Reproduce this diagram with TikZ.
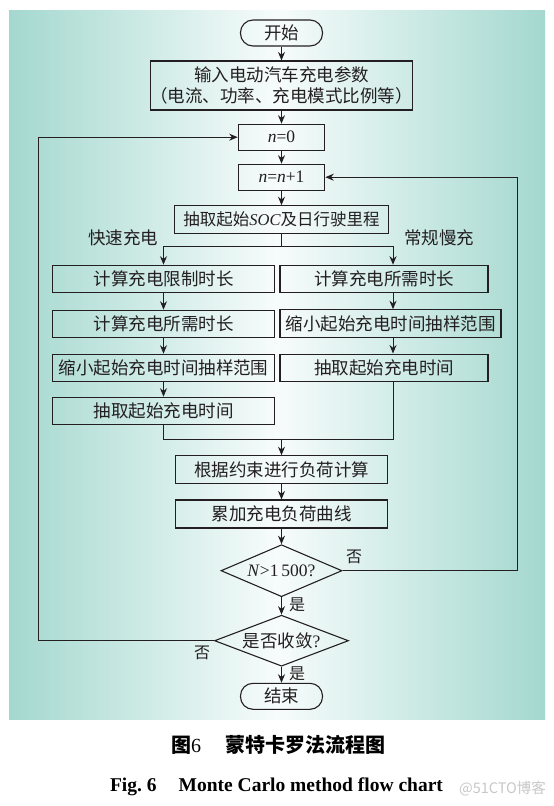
\documentclass[tikz,border=0pt]{standalone}
\usepackage{fontspec}
\setmainfont{Noto Sans CJK SC}
\newfontfamily\tnr{Liberation Serif}
\usetikzlibrary{arrows.meta,shapes.geometric}
\definecolor{tealedge}{RGB}{164,216,207}
\definecolor{midwhite}{RGB}{247,252,251}
\definecolor{ink}{RGB}{35,31,32}
\begin{document}
\begin{tikzpicture}[x=1pt,y=1pt,
  box/.style={draw=ink, line width=1.1pt, inner sep=0pt, minimum height=27.5pt, text=ink, font=\fontsize{17.5}{20}\selectfont},
  term/.style={box, rounded corners=12.5pt, minimum height=26pt, minimum width=82pt},
  dia/.style={box, diamond},
  arr/.style={-{Stealth[length=8.5pt,width=7pt]}, line width=1pt, draw=ink},
  ln/.style={line width=1pt, draw=ink},
  lab/.style={text=ink, font=\fontsize{16}{16}\selectfont, inner sep=0pt},
  side/.style={text=ink, font=\fontsize{17.5}{18}\selectfont, inner sep=0pt}]
\useasboundingbox (0,0) rectangle (554,-806);
\shade[left color=tealedge, right color=tealedge, middle color=midwhite] (9,-10) rectangle (545,-719);

% main column
\node[term] (start) at (281.5,-33) {开始};
\node[box, minimum width=255pt, minimum height=49pt, align=center, font=\fontsize{17.5}{20.3}\selectfont] (input) at (281.5,-85.5) {输入电动汽车充电参数\\（电流、功率、充电模式比例等）};
\node[box, minimum width=86.5pt, minimum height=26pt] (n0) at (281.5,-137.2) {\tnr\textit{n}=0};
\node[box, minimum width=86.5pt, minimum height=26pt] (n1) at (281.5,-177.2) {\tnr\textit{n}=\textit{n}+1};
\node[box, minimum width=213.7pt, font=\fontsize{16.5}{18}\selectfont] (soc) at (281.5,-219.5) {抽取起始{\tnr\textit{SOC}}及日行驶里程};

% columns
\node[box, minimum width=221.5pt] (L1) at (163.5,-279) {计算充电限制时长};
\node[box, minimum width=221.5pt] (L2) at (163.5,-324) {计算充电所需时长};
\node[box, minimum width=221.5pt] (L3) at (163.5,-368) {缩小起始充电时间抽样范围};
\node[box, minimum width=221.5pt] (L4) at (163.5,-411) {抽取起始充电时间};
\node[box, minimum width=208pt] (R1) at (384,-279) {计算充电所需时长};
\node[box, minimum width=221pt] (R2) at (390.5,-323.5) {缩小起始充电时间抽样范围};
\node[box, minimum width=208pt] (R3) at (384,-367.8) {抽取起始充电时间};

\node[box, minimum width=212pt] (calc) at (281.5,-469.5) {根据约束进行负荷计算};
\node[box, minimum width=212pt, minimum height=28pt] (acc) at (281.5,-514) {累加充电负荷曲线};
\node[dia, aspect=2.33, minimum width=121pt, minimum height=52pt] (d1) at (281.5,-570.7) {\tnr\textit{N}>1\,500?};
\node[dia, aspect=2.63, minimum width=134pt, minimum height=51pt] (d2) at (281.5,-640.7) {是否收敛{\tnr ?}};
\node[term] (end) at (281.5,-696.3) {结束};

% labels
\node[side] (fast) at (123,-237.7) {快速充电};
\node[side] (slow) at (439,-237.7) {常规慢充};
\node[lab] (no1) at (354,-557) {否};
\node[lab] (yes1) at (297,-605) {是};
\node[lab] (no2) at (202,-653) {否};
\node[lab] (yes2) at (297,-674) {是};

% helper coordinates
\coordinate (rx) at (393,0);
\coordinate (rl) at (517,0);
\coordinate (ll) at (38,0);
\coordinate (split) at (281.5,-246);
\coordinate (merge) at (281.5,-439);

% connectors
\draw[arr] (start.south) -- (input.north);
\draw[arr] (input.south) -- (n0.north);
\draw[arr] (n0.south) -- (n1.north);
\draw[arr] (n1.south) -- (soc.north);
\draw[ln] (soc.south) -- (split);
\draw[arr] (split) -| (L1.north);
\draw[arr] (split) -| (R1.north -| rx);
\draw[arr] (L1.south) -- (L2.north);
\draw[arr] (L2.south) -- (L3.north);
\draw[arr] (L3.south) -- (L4.north);
\draw[arr] (R1.south -| rx) -- (R2.north -| rx);
\draw[arr] (R2.south -| rx) -- (R3.north -| rx);
\draw[ln] (L4.south) |- (merge);
\draw[ln] (R3.south -| rx) |- (merge);
\draw[arr] (merge) -- (calc.north);
\draw[arr] (calc.south) -- (acc.north);
\draw[arr] (acc.south) -- (d1.north);
\draw[arr] (d1.south) -- (d2.north);
\draw[arr] (d2.south) -- (end.north);
\draw[arr] (d1.east) -- (d1.east -| rl) -- (n1.east -| rl) -- (n1.east);
\draw[arr] (d2.west) -- (d2.west -| ll) -- (n0.west -| ll) -- (n0.west);

% captions
\node[font=\fontsize{20}{20}\selectfont\bfseries, text=black, inner sep=0pt] (cap1) at (278,-745) {图{\tnr\mdseries 6}\hspace{24pt}蒙特卡罗法流程图};
\node[font=\tnr\bfseries\fontsize{19.5}{20}\selectfont, text=black, anchor=base, inner sep=0pt] (cap2) at (276.5,-791) {Fig.~6\hspace{22pt}Monte Carlo method flow chart};
\node[font=\fontsize{14.5}{15}\selectfont, text=black!22, inner sep=0pt] (wm) at (502.5,-789) {@51CTO博客};
\end{tikzpicture}
\end{document}
